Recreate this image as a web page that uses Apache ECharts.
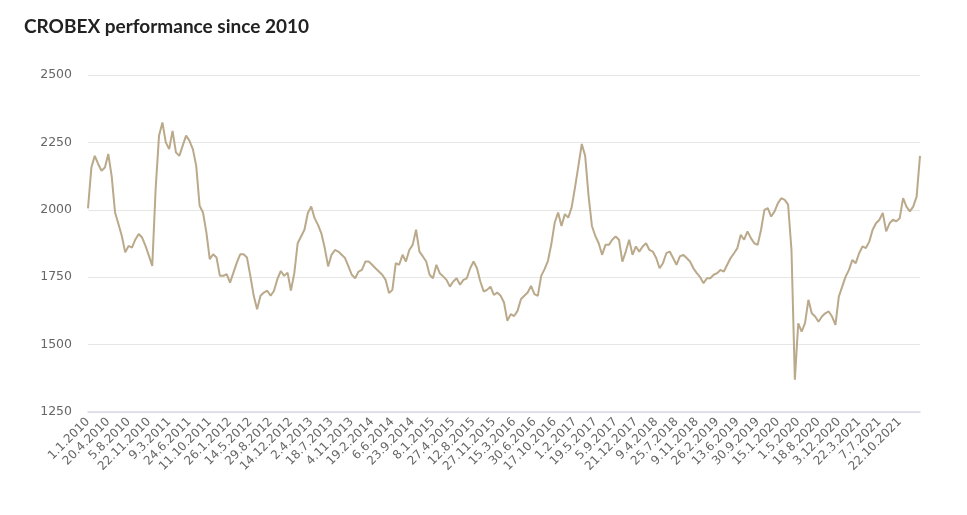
<!DOCTYPE html>
<html>
<head>
<meta charset="utf-8">
<script src="https://cdn.jsdelivr.net/npm/echarts@6/dist/echarts.min.js"></script>
<style>
  html, body { margin: 0; padding: 0; background: #fff; }
  #chart { width: 967px; height: 515px; }
</style>
</head>
<body>
<div id="chart"></div>
<script>
// tick labels shown on the x axis (one every 6 samples)
var tickLabels = ['1.1.2010', '20.4.2010', '5.8.2010', '22.11.2010', '9.3.2011', '24.6.2011',
  '11.10.2011', '26.1.2012', '14.5.2012', '29.8.2012', '14.12.2012', '2.4.2013', '18.7.2013',
  '4.11.2013', '19.2.2014', '6.6.2014', '23.9.2014', '8.1.2015', '27.4.2015', '12.8.2015',
  '27.11.2015', '15.3.2016', '30.6.2016', '17.10.2016', '1.2.2017', '19.5.2017', '5.9.2017',
  '21.12.2017', '9.4.2018', '25.7.2018', '9.11.2018', '26.2.2019', '13.6.2019', '30.9.2019',
  '15.1.2020', '1.5.2020', '18.8.2020', '3.12.2020', '22.3.2021', '7.7.2021', '22.10.2021'];
var samplesPerTick = 6;

// CROBEX index level
var crobex2010 = [2005, 2157, 2200, 2170, 2145, 2157, 2207, 2125, 1990, 1947, 1903, 1842, 1866, 1860,
  1890, 1910, 1897, 1866, 1830, 1792, 2077, 2275, 2324, 2250, 2225, 2293, 2213, 2200, 2238, 2275,
  2256, 2225, 2163, 2015, 1990, 1916, 1817, 1835, 1823, 1755, 1755, 1761, 1730, 1767, 1804, 1835,
  1835, 1823, 1755, 1681, 1631, 1681, 1693, 1700, 1681, 1700, 1743, 1773, 1755, 1767, 1700];
var crobex2012 = [1765, 1876, 1901, 1926, 1988, 2012, 1969, 1944, 1913, 1858, 1790, 1833, 1851, 1845,
  1833, 1821, 1790, 1759, 1746, 1771, 1777, 1808, 1808, 1796, 1783, 1771, 1759, 1740, 1691, 1703,
  1802, 1796, 1833, 1808, 1851, 1870, 1926, 1845, 1827, 1808, 1759, 1746, 1796, 1765, 1753, 1740,
  1715, 1734, 1746, 1722, 1740, 1746, 1783, 1808, 1783, 1734, 1697, 1703, 1715, 1684];
var crobex2015 = [1693, 1681, 1656, 1588, 1613, 1606, 1625, 1668, 1681, 1693, 1718, 1687, 1681, 1755,
  1780, 1811, 1873, 1953, 1990, 1940, 1984, 1971, 2009, 2083, 2163, 2244, 2200, 2052, 1940, 1903,
  1876, 1833, 1870, 1870, 1889, 1901, 1889, 1808, 1845, 1889, 1833, 1864, 1845, 1864, 1876, 1851,
  1845, 1821, 1783, 1802, 1839, 1845, 1821, 1796, 1827, 1833, 1821, 1808, 1783, 1765, 1750];
var crobex2018 = [1728, 1746, 1746, 1759, 1765, 1777, 1771, 1796, 1821, 1839, 1858, 1907, 1889, 1920,
  1895, 1876, 1870, 1926, 2000, 2006, 1975, 1994, 2025, 2043, 2037, 2019, 1851, 1370, 1579, 1548,
  1580, 1666, 1616, 1604, 1585, 1604, 1616, 1623, 1604, 1573, 1678, 1715, 1752, 1777, 1814, 1802,
  1839, 1864, 1858, 1882, 1926, 1950, 1963, 1988, 1920, 1950, 1963, 1957, 1969, 2043, 2012, 1994,
  2012, 2049, 2200];

var values = crobex2010.concat(crobex2012, crobex2015, crobex2018);
var categories = values.map(function (v, i) {
  return i % samplesPerTick === 0 ? (tickLabels[i / samplesPerTick] || '') : '';
});

var chart = echarts.init(document.getElementById('chart'), null, { renderer: 'canvas' });
chart.setOption({
  animation: false,
  backgroundColor: '#fff',
  title: {
    text: 'CROBEX performance since 2010',
    left: 19,
    top: 12,
    textStyle: { fontFamily: 'Lato', fontWeight: 'bold', fontSize: 19, color: '#222' }
  },
  grid: { left: 88, right: 47, top: 75, bottom: 103 },
  xAxis: {
    type: 'category',
    data: categories,
    boundaryGap: false,
    axisLine: { lineStyle: { color: '#d9d9e8', width: 1.5 } },
    axisTick: { show: false },
    axisLabel: {
      interval: samplesPerTick - 1,
      rotate: 45,
      margin: 8,
      color: '#666',
      fontSize: 12,
      fontFamily: 'DejaVu Sans'
    },
    splitLine: { show: false }
  },
  yAxis: {
    type: 'value',
    min: 1250,
    max: 2500,
    interval: 250,
    axisLine: { show: false },
    axisTick: { show: false },
    axisLabel: {
      color: '#666',
      fontSize: 12.5,
      fontFamily: 'DejaVu Sans',
      margin: 16,
      formatter: function (v) { return String(v); }
    },
    splitLine: { lineStyle: { color: '#e6e6e6' } }
  },
  series: [{
    type: 'line',
    data: values,
    symbol: 'none',
    lineStyle: { color: '#baa98a', width: 2 }
  }]
});
</script>
</body>
</html>
